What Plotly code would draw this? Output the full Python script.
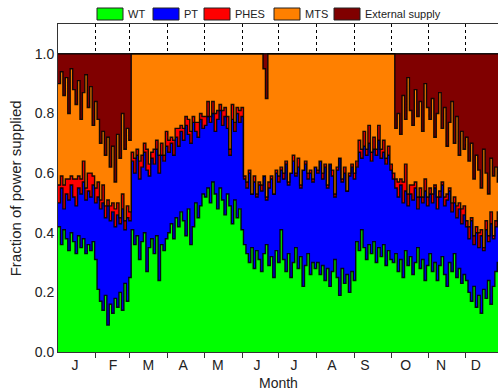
import plotly.graph_objects as go

# ---- data (2-day blocks, day index = 2*i) ----
# cumulative top of WT (= WT fraction)
wt = [0.42, 0.36, 0.41, 0.38, 0.34, 0.40, 0.37, 0.33, 0.39, 0.35, 0.38, 0.33, 0.36, 0.34, 0.37, 0.31,
      0.21, 0.17, 0.14, 0.19, 0.09, 0.16, 0.13, 0.18, 0.15, 0.20, 0.14, 0.23, 0.17, 0.25,
      0.41, 0.36, 0.39, 0.31, 0.37, 0.40, 0.27, 0.35, 0.38, 0.33, 0.39, 0.24, 0.36, 0.34, 0.38,
      0.40, 0.43, 0.38, 0.45, 0.42, 0.47, 0.44, 0.39, 0.48, 0.36, 0.42, 0.50, 0.45, 0.49, 0.53,
      0.52, 0.55, 0.50, 0.57, 0.53, 0.48, 0.55, 0.51, 0.46, 0.53, 0.49, 0.43, 0.51, 0.45, 0.48, 0.41,
      0.36, 0.33, 0.30, 0.35, 0.28, 0.34, 0.31, 0.27, 0.33, 0.36, 0.29, 0.32, 0.25, 0.34, 0.30,
      0.41, 0.31, 0.27, 0.33, 0.25, 0.30, 0.35, 0.28, 0.32, 0.22, 0.29, 0.33, 0.26, 0.30, 0.28,
      0.30, 0.26, 0.29, 0.24, 0.28, 0.22, 0.27, 0.31, 0.25, 0.19, 0.28, 0.23, 0.26, 0.20, 0.27, 0.24,
      0.37, 0.34, 0.41, 0.35, 0.31, 0.36, 0.33, 0.37, 0.30, 0.35, 0.32, 0.36, 0.29, 0.34, 0.31,
      0.30, 0.33, 0.27, 0.31, 0.25, 0.34, 0.29, 0.32, 0.26, 0.30, 0.35, 0.28, 0.31, 0.24, 0.29,
      0.33, 0.27, 0.30, 0.24, 0.29, 0.32, 0.26, 0.22, 0.30, 0.27, 0.33, 0.25, 0.28, 0.23, 0.26,
      0.24, 0.20, 0.17, 0.22, 0.15, 0.19, 0.13, 0.21, 0.18, 0.24, 0.16, 0.22, 0.27, 0.30]

# cumulative top of WT + PT
wt_pt = [0.50, 0.55, 0.48, 0.53, 0.51, 0.56, 0.52, 0.49, 0.55, 0.53, 0.57, 0.51, 0.54, 0.52, 0.56, 0.50,
         0.52, 0.48, 0.50, 0.45, 0.49, 0.44, 0.47, 0.42, 0.46, 0.43, 0.48, 0.41, 0.45, 0.44,
         0.64, 0.60, 0.66, 0.58, 0.62, 0.67, 0.61, 0.59, 0.65, 0.63, 0.68, 0.60, 0.66, 0.64, 0.69,
         0.67, 0.70, 0.66, 0.72, 0.69, 0.74, 0.71, 0.76, 0.73, 0.70, 0.77, 0.74, 0.72, 0.78, 0.75,
         0.76, 0.79, 0.77, 0.80, 0.74, 0.78, 0.81, 0.76, 0.79, 0.75, 0.66, 0.78, 0.74, 0.80, 0.77, 0.79,
         0.58, 0.55, 0.60, 0.53, 0.57, 0.52, 0.56, 0.54, 0.59, 0.51, 0.55, 0.58, 0.53, 0.60, 0.57,
         0.61, 0.58, 0.63, 0.56, 0.60, 0.64, 0.59, 0.62, 0.55, 0.61, 0.63, 0.58, 0.60, 0.57, 0.62,
         0.60, 0.64, 0.58, 0.62, 0.55, 0.63, 0.59, 0.52, 0.61, 0.65, 0.57, 0.60, 0.54, 0.59, 0.62, 0.58,
         0.62, 0.67, 0.65, 0.69, 0.66, 0.70, 0.64, 0.68, 0.66, 0.71, 0.65, 0.67, 0.63, 0.66, 0.61,
         0.58, 0.55, 0.52, 0.56, 0.50, 0.54, 0.49, 0.53, 0.51, 0.55, 0.48, 0.52, 0.50, 0.54, 0.49,
         0.53, 0.50, 0.55, 0.48, 0.52, 0.56, 0.49, 0.51, 0.54, 0.47, 0.50, 0.45, 0.48, 0.43, 0.46,
         0.42, 0.38, 0.44, 0.36, 0.40, 0.35, 0.39, 0.34, 0.41, 0.37, 0.43, 0.38, 0.42, 0.44]

# PHES fraction per block
phes = [0.06, 0.04, 0.08, 0.05, 0.07, 0.03, 0.06, 0.09, 0.04, 0.05, 0.07, 0.04, 0.06, 0.08, 0.03, 0.05,
        0.05, 0.03, 0.06, 0.04, 0.02, 0.05, 0.03, 0.06, 0.04, 0.02, 0.05, 0.03, 0.04, 0.03,
        0.03, 0.05, 0.02, 0.06, 0.04, 0.03, 0.07, 0.04, 0.02, 0.05, 0.03, 0.06, 0.04, 0.02, 0.05,
        0.04, 0.02, 0.05, 0.03, 0.06, 0.02, 0.04, 0.03, 0.05, 0.04, 0.02, 0.03, 0.05, 0.02, 0.04,
        0.03, 0.05, 0.02, 0.04, 0.06, 0.03, 0.02, 0.05, 0.03, 0.04, 0.02, 0.05, 0.03, 0.02, 0.04, 0.03,
        0.01, 0.02, 0.01, 0.00, 0.02, 0.01, 0.01, 0.02, 0.00, 0.01, 0.02, 0.01, 0.00, 0.01, 0.02,
        0.01, 0.02, 0.01, 0.01, 0.00, 0.02, 0.01, 0.03, 0.01, 0.00, 0.01, 0.02, 0.01, 0.01, 0.00,
        0.01, 0.00, 0.02, 0.01, 0.01, 0.00, 0.02, 0.01, 0.01, 0.00, 0.01, 0.02, 0.00, 0.01, 0.01, 0.02,
        0.02, 0.04, 0.03, 0.05, 0.02, 0.06, 0.03, 0.04, 0.02, 0.05, 0.03, 0.04, 0.02, 0.03, 0.02,
        0.02, 0.03, 0.05, 0.02, 0.07, 0.09, 0.04, 0.03, 0.05, 0.02, 0.04, 0.03, 0.02, 0.04, 0.03,
        0.02, 0.03, 0.01, 0.04, 0.02, 0.01, 0.03, 0.02, 0.01, 0.03, 0.02, 0.04, 0.02, 0.05, 0.03,
        0.02, 0.04, 0.01, 0.03, 0.02, 0.05, 0.02, 0.01, 0.03, 0.02, 0.04, 0.01, 0.02, 0.03]

# cumulative top of WT + PT + PHES + MTS (1 - external supply)
no_ext = [0.90, 0.94, 0.86, 0.92, 0.80, 0.95, 0.88, 0.83, 0.91, 0.78, 0.87, 0.93, 0.82, 0.89, 0.76, 0.84,
          0.78, 0.70, 0.74, 0.66, 0.72, 0.62, 0.69, 0.57, 0.73, 0.65, 0.80, 0.68, 0.75, 0.71,
          1, 1, 1, 1, 1, 1, 1, 1, 1, 1, 1, 1, 1, 1, 1,
          1, 1, 1, 1, 1, 1, 1, 1, 1, 1, 1, 1, 1, 1, 1,
          1, 1, 1, 1, 1, 1, 1, 1, 1, 1, 1, 1, 1, 1, 1, 1,
          1, 1, 1, 1, 1, 1, 1, 1, 0.95, 0.85, 1, 1, 1, 1, 1,
          1, 1, 1, 1, 1, 1, 1, 1, 1, 1, 1, 1, 1, 1, 1,
          1, 1, 1, 1, 1, 1, 1, 1, 1, 1, 1, 1, 1, 1, 1, 1,
          1, 1, 1, 1, 1, 1, 1, 1, 1, 1, 1, 1, 1, 1, 1,
          1, 0.75, 0.80, 0.73, 0.86, 0.78, 0.92, 0.81, 0.76, 0.88, 0.79, 0.84, 0.74, 0.90, 0.82,
          0.78, 0.85, 0.72, 0.80, 0.87, 0.75, 0.82, 0.69, 0.77, 0.84, 0.70, 0.79, 0.66, 0.74, 0.68,
          0.72, 0.64, 0.70, 0.58, 0.66, 0.61, 0.55, 0.68, 0.60, 0.53, 0.65, 0.59, 0.62, 0.57]

months = ["J", "F", "M", "A", "M", "J", "J", "A", "S", "O", "N", "D"]
month_starts = [0, 31, 59, 90, 120, 151, 181, 212, 243, 273, 304, 334]
label_days = [14, 45, 74, 102.5, 131, 163, 193.5, 224.5, 251.5, 285, 314, 342.5]

names = ["WT", "PT", "PHES", "MTS", "External supply"]
colors = ["#00FF00", "#0000FF", "#FF0000", "#FF8000", "#800000"]

# ---- build stacked levels ----
n = len(wt)
days = [2 * i for i in range(n)] + [2 * n]
def close(v):
    return list(v) + [v[-1]]

lvl_wt = [wt[i] for i in range(n)]
lvl_pt = [max(wt_pt[i], wt[i]) for i in range(n)]
lvl_ph = [lvl_pt[i] + phes[i] for i in range(n)]
lvl_mts = [max(no_ext[i], lvl_ph[i]) for i in range(n)]
lvl_ext = [1.0] * n
levels = [lvl_wt, lvl_pt, lvl_ph, lvl_mts, lvl_ext]

fig = go.Figure()
for k, (nm, col, lv) in enumerate(zip(names, colors, levels)):
    fig.add_trace(go.Scatter(
        x=days, y=close(lv), name=nm, mode="lines",
        line=dict(shape="hv", color="rgba(0,0,0,0.9)", width=1.4),
        fill="tozeroy" if k == 0 else "tonexty",
        fillcolor=col, showlegend=False, hoverinfo="skip"))

font_family = "Liberation Sans, Arial, sans-serif"
fig.update_layout(
    width=498, height=392,
    margin=dict(l=58, r=0, t=24, b=40),
    paper_bgcolor="white", plot_bgcolor="white",
    font=dict(family=font_family, size=13, color="#222"),
    xaxis=dict(
        range=[0, 360.6], showline=True, mirror=True, linecolor="#333", linewidth=1,
        tickmode="array", tickvals=label_days, ticktext=months, ticks="",
        showgrid=False, zeroline=False, tickfont=dict(size=14), automargin=False,
        minor=dict(tickmode="array", tickvals=month_starts[1:], ticks="outside",
                   ticklen=5, tickcolor="#333", showgrid=True, gridcolor="#000",
                   griddash="3px,3px", gridwidth=1),
    ),
    yaxis=dict(
        range=[0, 1.1], showline=True, mirror=False, linecolor="#333", linewidth=1,
        tickmode="array", tickvals=[0, 0.2, 0.4, 0.6, 0.8, 1.0],
        ticktext=["0.0", "0.2", "0.4", "0.6", "0.8", "1.0"], ticks="",
        showgrid=False, zeroline=False, tickfont=dict(size=14), automargin=False,
    ),
)

# axis titles
fig.add_annotation(xref="paper", yref="paper", x=0.5, y=-0.095, text="Month",
                   showarrow=False, xanchor="center", yanchor="middle",
                   font=dict(size=14, color="#222", family=font_family))
fig.add_annotation(xref="paper", yref="paper", x=-0.097, y=0.5,
                   text="Fraction of power supplied", textangle=-90,
                   showarrow=False, xanchor="center", yanchor="middle",
                   font=dict(size=15, color="#222", family=font_family))

# manual legend above plot
def px_x(p):
    return (p - 58) / 440.0
def px_y(p):
    return (352 - p) / 328.0

leg_boxes = [97, 153, 204, 274, 334]
for nm, col, bx in zip(names, colors, leg_boxes):
    fig.add_shape(type="rect", xref="paper", yref="paper",
                  x0=px_x(bx), x1=px_x(bx + 26), y0=px_y(20), y1=px_y(8),
                  fillcolor=col, line=dict(color="#222", width=1))
    fig.add_annotation(xref="paper", yref="paper", x=px_x(bx + 29), y=px_y(14.5),
                       text=nm, showarrow=False, xanchor="left", yanchor="middle",
                       font=dict(size=11, color="#222", family=font_family))

fig.write_html("out.html", config={"displayModeBar": False},
               post_script="document.body.style.margin='0';document.body.style.padding='0';")
